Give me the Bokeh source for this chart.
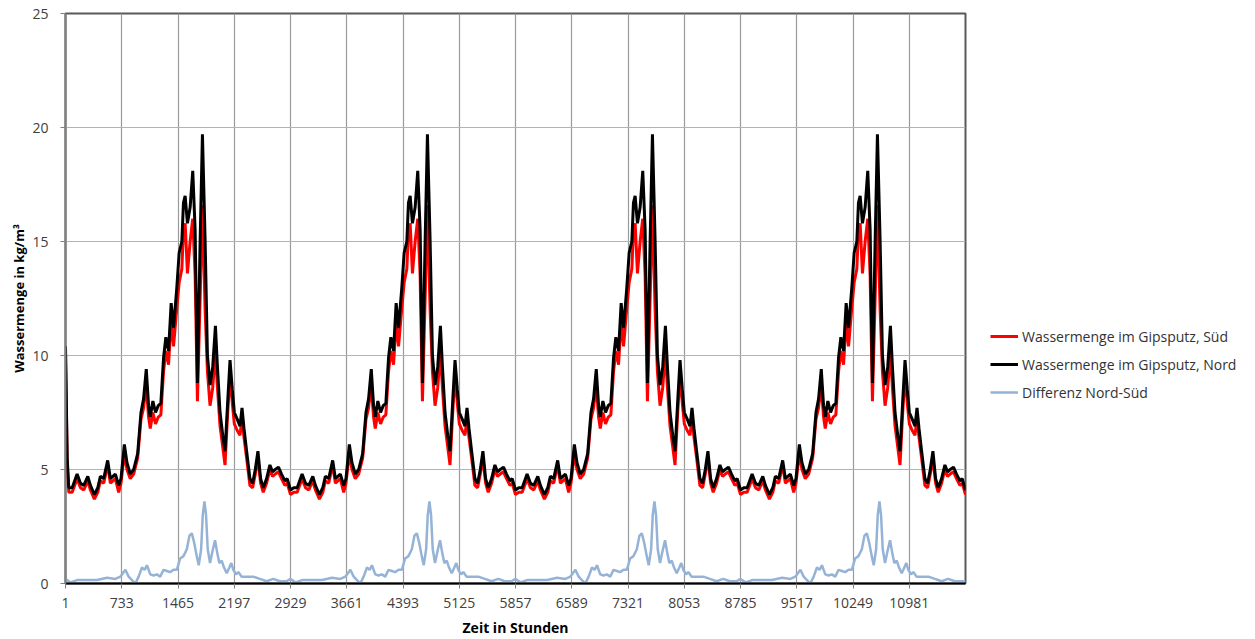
from bokeh.plotting import figure
from bokeh.layouts import row
from bokeh.models import Range1d, FixedTicker, Legend, LegendItem
from bokeh.embed import file_html
from bokeh.resources import INLINE

# ---------------- data ----------------
PERIOD = 2928          # hours per cycle (the simulation repeats 4 times)
N_PERIODS = 4

tick_values = [1, 733, 1465, 2197, 2929, 3661, 4393, 5125, 5857, 6589,
               7321, 8053, 8785, 9517, 10249, 10981]
tick_labels = ["1", "733", "1465", "2197", "2929", "3661", "4393", "5125",
               "5857", "6589", "7321", "8053", "8785", "9517", "10249", "10981"]
y_ticks = [0, 5, 10, 15, 20, 25]
series_names = ["Wassermenge im Gipsputz, Süd", "Wassermenge im Gipsputz, Nord",
                "Differenz Nord-Süd"]

# initial transient at the very beginning of the first cycle
start_hours = [0, 22]
nord_start = [10.4, 5.5]
sued_start = [10.2, 5.2]

# one cycle (hour offset within cycle), water content Nord / Süd
cycle_hours = [43, 87, 151, 195, 238, 290, 324, 376, 420, 454, 497, 549, 584, 649,
               692, 722, 766, 800, 843, 887, 939, 982, 1016, 1051, 1081, 1103, 1137,
               1172, 1207, 1241, 1276, 1306, 1341, 1375, 1406, 1449, 1479, 1514, 1535,
               1557, 1587, 1622, 1656, 1687, 1717, 1752, 1782, 1817, 1847, 1881, 1916,
               1951, 1977, 2011, 2046, 2076, 2111, 2141, 2171, 2197, 2236, 2271, 2297,
               2323, 2357, 2400, 2435, 2470, 2504, 2539, 2573, 2617, 2660, 2694, 2729,
               2772, 2811, 2855, 2885, 2928]
nord_cycle = [4.2, 4.2, 4.8, 4.4, 4.3, 4.7, 4.3, 3.9, 4.2, 4.7, 4.6, 5.4, 4.6, 4.8,
              4.3, 4.6, 6.1, 5.3, 4.8, 5.0, 5.7, 7.5, 8.1, 9.4, 7.8, 7.3, 8.0,
              7.5, 7.8, 7.9, 9.9, 10.8, 10.2, 12.3, 11.2, 13.0, 14.5, 15.0, 16.7,
              17.0, 15.8, 16.5, 18.1, 15.5, 8.8, 15.0, 19.7, 15.0, 10.0, 8.7, 9.5,
              11.3, 9.5, 7.5, 6.5, 5.8, 8.0, 9.8, 8.5, 7.5, 7.2, 6.9, 7.7,
              6.8, 5.8, 4.6, 4.4, 5.0, 5.8, 4.6, 4.2, 4.6, 5.2, 4.9, 5.0,
              5.1, 4.8, 4.5, 4.6, 4.1]
sued_cycle = [4.0, 4.0, 4.6, 4.2, 4.1, 4.5, 4.1, 3.7, 4.0, 4.5, 4.4, 5.2, 4.4, 4.6,
              4.0, 4.4, 5.7, 5.0, 4.6, 4.8, 5.5, 7.2, 7.7, 8.7, 7.3, 6.8, 7.5,
              7.0, 7.3, 7.4, 9.3, 10.2, 9.6, 11.5, 10.4, 12.1, 13.2, 13.8, 15.5,
              15.8, 13.6, 15.0, 16.0, 13.5, 8.0, 12.5, 16.6, 12.0, 9.3, 7.8, 8.6,
              10.2, 8.6, 6.9, 6.0, 5.2, 7.5, 9.2, 7.9, 7.0, 6.7, 6.5, 7.3,
              6.4, 5.5, 4.3, 4.2, 4.8, 5.5, 4.4, 4.0, 4.4, 5.0, 4.7, 4.8,
              4.9, 4.6, 4.3, 4.4, 3.9]

# difference Nord - Süd, one cycle
diff_hours = [0, 65, 151, 281, 411, 541, 649, 714, 779, 822, 865, 908, 952, 995,
              1029, 1060, 1103, 1146, 1189, 1233, 1276, 1319, 1362, 1406, 1449, 1492,
              1535, 1579, 1613, 1644, 1674, 1708, 1734, 1765, 1786, 1808, 1829, 1851,
              1881, 1912, 1946, 1977, 2002, 2033, 2063, 2098, 2132, 2158, 2184, 2219,
              2249, 2292, 2357, 2444, 2530, 2617, 2703, 2790, 2876]
diff_cycle = [0.2, 0.05, 0.15, 0.15, 0.15, 0.25, 0.2, 0.3, 0.6, 0.3, 0.15, 0.0, 0.3, 0.7,
              0.6, 0.8, 0.4, 0.35, 0.4, 0.3, 0.6, 0.55, 0.5, 0.6, 0.6, 1.1,
              1.2, 1.5, 2.1, 2.2, 1.8, 1.2, 0.8, 1.5, 3.0, 3.6, 3.0, 1.5,
              0.9, 1.4, 1.9, 1.3, 0.9, 1.0, 0.7, 0.45, 0.7, 0.9, 0.6, 0.4,
              0.5, 0.3, 0.3, 0.3, 0.2, 0.1, 0.2, 0.1, 0.1]
diff_end_hour = 11712
diff_end = 0.1

# ---------------- build series ----------------
x_main = [h + 1 for h in start_hours]
nord = list(nord_start)
sued = list(sued_start)
for k in range(N_PERIODS):
    x_main += [h + 1 + k * PERIOD for h in cycle_hours]
    nord += nord_cycle
    sued += sued_cycle

x_diff = []
diff = []
for k in range(N_PERIODS):
    x_diff += [h + 1 + k * PERIOD for h in diff_hours]
    diff += diff_cycle
x_diff.append(diff_end_hour + 1)
diff.append(diff_end)

series = [(x_main, sued, "#ff0000", 3), (x_main, nord, "#000000", 3),
          (x_diff, diff, "#95b3d7", 2.5)]

# ---------------- styles ----------------
FONT = "Open Sans"
H = 639

# ---------------- main figure ----------------
p = figure(width=975, height=H, output_backend="svg", toolbar_location=None,
           x_range=Range1d(1, PERIOD * N_PERIODS + 1), y_range=Range1d(0, 25),
           min_border_left=65, min_border_top=13, min_border_right=10,
           min_border_bottom=52)
p.background_fill_color = "white"
p.border_fill_color = "white"
p.outline_line_color = "#595959"
p.outline_line_width = 2

for xs, ys, c, w in series:
    p.line(xs, ys, line_color=c, line_width=w)

p.xaxis.ticker = FixedTicker(ticks=tick_values)
p.xaxis.major_label_overrides = {v: s for v, s in zip(tick_values, tick_labels)}
p.yaxis.ticker = FixedTicker(ticks=y_ticks)
for ax in (p.xaxis[0], p.yaxis[0]):
    ax.minor_tick_line_color = None
    ax.major_tick_in = 0
    ax.major_tick_out = 5
    ax.major_label_text_font = FONT
    ax.major_label_text_font_size = "14px"
    ax.major_label_text_color = "#404040"
    ax.axis_label_text_font = FONT
    ax.axis_label_text_font_style = "bold"
    ax.axis_label_text_color = "#000000"

p.xaxis.axis_line_color = "#000000"
p.xaxis.axis_line_width = 2
p.xaxis.major_tick_line_color = "#808080"
p.xaxis.major_label_standoff = 9
p.xaxis.axis_label = "Zeit in Stunden"
p.xaxis.axis_label_text_font_size = "14px"
p.xaxis.axis_label_standoff = 7

p.yaxis.axis_line_color = "#808080"
p.yaxis.axis_line_width = 2
p.yaxis.major_tick_line_color = "#808080"
p.yaxis.major_label_standoff = 12
p.yaxis.axis_label = "Wassermenge in kg/m³"
p.yaxis.axis_label_text_font_size = "13px"
p.yaxis.axis_label_standoff = 1

p.xgrid.grid_line_color = "#9a9a9a"
p.xgrid.grid_line_width = 1.2
p.ygrid.grid_line_color = "#b4b4b4"
p.ygrid.grid_line_width = 1.2

# ---------------- legend panel (same series, view range keeps them off-screen) ----------------
pl = figure(width=275, height=H, output_backend="svg", toolbar_location=None,
            x_range=Range1d(-2, -1), y_range=Range1d(-2, -1), min_border=0)
pl.axis.visible = False
pl.grid.visible = False
pl.outline_line_color = None
pl.background_fill_color = "white"
pl.border_fill_color = "white"
lr = [pl.line(xs, ys, line_color=c, line_width=w) for xs, ys, c, w in series]
legend = Legend(items=[LegendItem(label=n, renderers=[r]) for n, r in zip(series_names, lr)],
                location=(15, 181))
legend.border_line_color = None
legend.background_fill_alpha = 0
legend.label_text_font = FONT
legend.label_text_font_size = "14px"
legend.label_text_color = "#333333"
legend.glyph_width = 28
legend.glyph_height = 20
legend.label_height = 20
legend.spacing = 8
legend.padding = 0
legend.margin = 0
legend.label_standoff = 4
pl.add_layout(legend)

layout = row(p, pl)
open("out.html", "w").write(file_html(layout, INLINE))
